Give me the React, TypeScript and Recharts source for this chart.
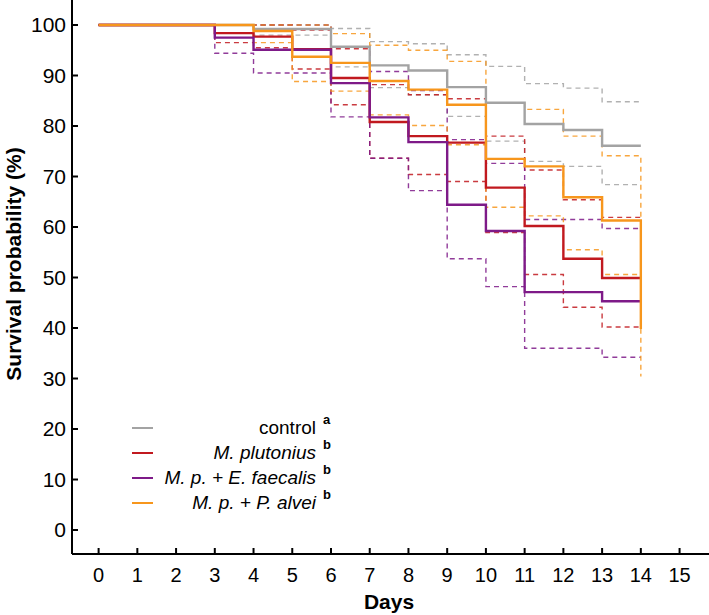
import { LineChart, Line, XAxis, YAxis, Label } from "recharts"

// Kaplan-Meier survival (%), one value per step day
const days = [0, 3, 4, 5, 6, 7, 8, 9, 10, 11, 12, 13, 14]

const control = [100, 100, 99.2, 99.2, 95.7, 92.0, 91.0, 87.7, 84.6, 80.4, 79.2, 76.1, 76.1]
const controlHi = [100, 100, 100, 100, 99.3, 96.7, 96.3, 94.1, 91.8, 88.4, 87.5, 84.8, 84.8]
const controlLo = [100, 100, 98.0, 98.0, 91.7, 87.6, 86.2, 81.9, 77.0, 73.0, 72.0, 68.4, 68.4]

const plutonius = [100, 98.4, 97.7, 95.2, 89.5, 80.8, 78.0, 76.7, 67.8, 60.2, 53.7, 49.9, 49.9]
const plutoniusHi = [100, 100, 100, 99.0, 95.3, 88.2, 86.2, 85.4, 78.0, 71.3, 65.4, 61.9, 61.9]
const plutoniusLo = [100, 96.5, 95.5, 91.3, 84.2, 73.6, 70.4, 69.0, 58.9, 50.6, 44.1, 40.2, 40.2]

const faecalis = [100, 97.5, 95.1, 95.1, 88.5, 81.7, 76.8, 64.4, 59.2, 47.1, 47.1, 45.3, 45.3]
const faecalisHi = [100, 100, 100, 100, 95.7, 90.8, 87.0, 77.3, 72.6, 61.5, 61.5, 59.7, 59.7]
const faecalisLo = [100, 94.4, 90.5, 90.5, 81.8, 73.6, 67.2, 53.7, 48.2, 36.0, 36.0, 34.2, 34.2]

const alvei = [100, 100, 98.8, 93.7, 92.5, 88.9, 87.2, 84.2, 73.5, 72.0, 65.9, 61.3, 39.8]
const alveiHi = [100, 100, 100, 100, 98.3, 96.0, 95.0, 92.8, 84.5, 83.3, 78.0, 74.1, 51.0]
const alveiLo = [100, 100, 96.5, 88.8, 86.9, 82.2, 80.1, 76.3, 63.9, 62.2, 55.5, 50.6, 30.4]

const xTicks = [0, 1, 2, 3, 4, 5, 6, 7, 8, 9, 10, 11, 12, 13, 14, 15]
const yTicks = [0, 10, 20, 30, 40, 50, 60, 70, 80, 90, 100]

const groups = [
  { name: "control", italic: false, sup: "a", color: "#a3a3a3", mid: control, hi: controlHi, lo: controlLo },
  { name: "M. plutonius", italic: true, sup: "b", color: "#c1191f", mid: plutonius, hi: plutoniusHi, lo: plutoniusLo },
  { name: "M. p. + E. faecalis", italic: true, sup: "b", color: "#7e1a88", mid: faecalis, hi: faecalisHi, lo: faecalisLo },
  { name: "M. p. + P. alvei", italic: true, sup: "b", color: "#f7961c", mid: alvei, hi: alveiHi, lo: alveiLo },
]

const toPoints = (vals: number[]) => days.map((d, i) => ({ day: d, value: vals[i] }))

const W = 709
const H = 615
const AXIS_X = 72
const AXIS_Y = 554
const FONT = "'Liberation Sans', Arial, sans-serif"

function ChartLegend() {
  return (
    <div style={{ position: "absolute", left: 0, top: 0, fontFamily: FONT, fontSize: 19, color: "#000" }}>
      {groups.map((g, i) => {
        const cy = 428 + i * 25
        return (
          <div key={g.name}>
            <div style={{ position: "absolute", left: 132, top: cy - 1, width: 21, height: 2, background: g.color }} />
            <div style={{ position: "absolute", right: -316, top: cy - 11, lineHeight: "22px", whiteSpace: "nowrap", fontStyle: g.italic ? "italic" : "normal", textAlign: "right" }}>
              {g.name}
            </div>
            <div style={{ position: "absolute", left: 323, top: cy - 15, fontSize: 13, fontWeight: "bold", lineHeight: "14px" }}>
              {g.sup}
            </div>
          </div>
        )
      })}
    </div>
  )
}

export default function App() {
  return (
    <div style={{ position: "absolute", left: 0, top: 0, width: W, height: H, background: "#fff" }}>
      <LineChart width={W} height={H} margin={{ top: 0, right: 0, bottom: 0, left: 0 }} style={{ fontFamily: FONT }}>
        <XAxis
          type="number"
          dataKey="day"
          domain={[-0.687, 15.76]}
          ticks={xTicks}
          interval={0}
          allowDataOverflow
          height={H - AXIS_Y}
          axisLine={{ stroke: "#000", strokeWidth: 2 }}
          tickLine={{ stroke: "#000", strokeWidth: 2 }}
          tickSize={-6}
          tickMargin={20}
          tick={{ fill: "#000", fontSize: 20 }}
        >
          <Label
            content={() => (
              <text x={389} y={609} textAnchor="middle" fontSize={21} fontWeight="bold" fill="#000">
                Days
              </text>
            )}
          />
        </XAxis>
        <YAxis
          type="number"
          domain={[-4.75, 104.95]}
          ticks={yTicks}
          interval={0}
          allowDataOverflow
          width={AXIS_X}
          axisLine={{ stroke: "#000", strokeWidth: 2 }}
          tickLine={{ stroke: "#000", strokeWidth: 2 }}
          tickSize={-6}
          tickMargin={12}
          tick={{ fill: "#000", fontSize: 21 }}
        >
          <Label
            content={() => (
              <text x={0} y={0} transform="translate(21 264) rotate(-90)" textAnchor="middle" fontSize={21} fontWeight="bold" fill="#000">
                Survival probability (%)
              </text>
            )}
          />
        </YAxis>
        {groups.flatMap((g) => [
          <Line key={g.name + "-hi"} data={toPoints(g.hi)} dataKey="value" type="stepAfter" stroke={g.color} strokeOpacity={0.85} strokeWidth={1.4} strokeDasharray="5 4" dot={false} activeDot={false} isAnimationActive={false} />,
          <Line key={g.name + "-lo"} data={toPoints(g.lo)} dataKey="value" type="stepAfter" stroke={g.color} strokeOpacity={0.85} strokeWidth={1.4} strokeDasharray="5 4" dot={false} activeDot={false} isAnimationActive={false} />,
        ])}
        {groups.map((g) => (
          <Line key={g.name} data={toPoints(g.mid)} dataKey="value" type="stepAfter" stroke={g.color} strokeWidth={2.4} dot={false} activeDot={false} isAnimationActive={false} />
        ))}
      </LineChart>
      <ChartLegend />
    </div>
  )
}
